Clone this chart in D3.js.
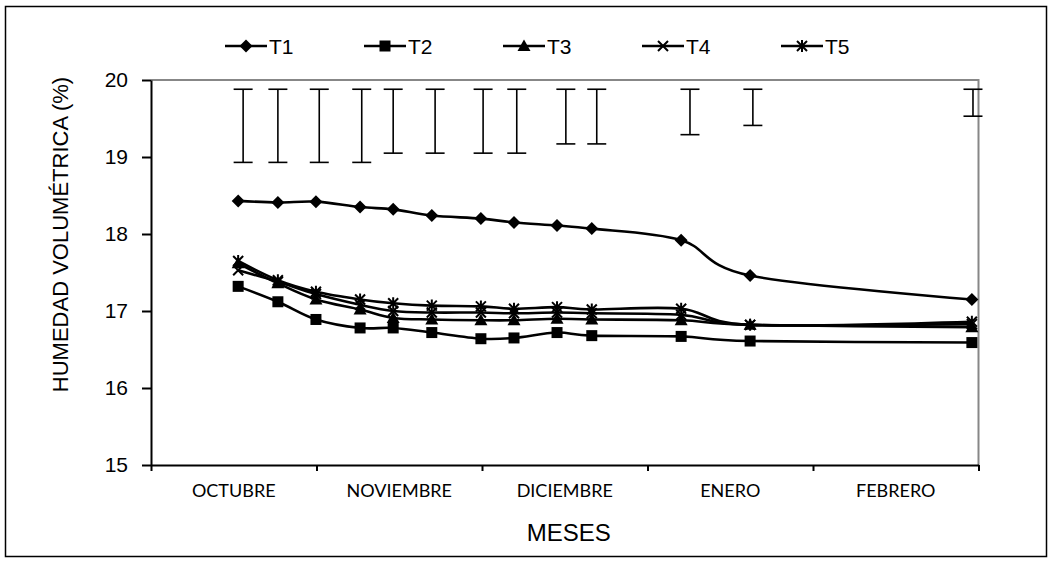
<!DOCTYPE html>
<html lang="es">
<head>
<meta charset="utf-8">
<title>Humedad volumetrica</title>
<script src="https://cdn.jsdelivr.net/npm/d3@7"></script>
<style>
  body { margin: 0; background: #fff; }
</style>
</head>
<body>
<script>

// dias desde el 1 de octubre (el eje usa meses de 30 dias)
var dias = [15.8, 23, 29.9, 37.9, 43.9, 50.9, 59.8, 65.8, 73.6, 79.9, 96.1, 108.6, 148.8];
var meses = ["OCTUBRE", "NOVIEMBRE", "DICIEMBRE", "ENERO", "FEBRERO"];
var yTicks = [15, 16, 17, 18, 19, 20];

var t1 = [18.43, 18.41, 18.42, 18.35, 18.32, 18.24, 18.20, 18.15, 18.11, 18.07, 17.92, 17.46, 17.15];
var t2 = [17.32, 17.12, 16.89, 16.78, 16.78, 16.72, 16.64, 16.65, 16.72, 16.68, 16.67, 16.61, 16.59];
var t3 = [17.62, 17.36, 17.15, 17.02, 16.91, 16.89, 16.88, 16.88, 16.90, 16.89, 16.88, 16.82, 16.79];
var t4 = [17.53, 17.38, 17.22, 17.08, 17.00, 16.98, 16.98, 16.97, 16.98, 16.97, 16.95, 16.82, 16.83];
var t5 = [17.65, 17.40, 17.25, 17.15, 17.10, 17.07, 17.06, 17.03, 17.05, 17.02, 17.03, 16.82, 16.86];

// barras de error (parte superior del grafico)
var diasBarra = [16.7, 23, 30.5, 38.2, 43.9, 51.5, 60.2, 66.3, 75.2, 80.8, 97.7, 109.1, 149];
var barraSup = [19.88, 19.88, 19.88, 19.88, 19.88, 19.88, 19.88, 19.88, 19.88, 19.88, 19.88, 19.88, 19.88];
var barraInf = [18.93, 18.93, 18.93, 18.93, 19.05, 19.05, 19.05, 19.05, 19.17, 19.17, 19.29, 19.41, 19.53];

var series = [
  { nombre: "T1", valores: t1, marca: "rombo" },
  { nombre: "T2", valores: t2, marca: "cuadro" },
  { nombre: "T3", valores: t3, marca: "triangulo" },
  { nombre: "T4", valores: t4, marca: "equis" },
  { nombre: "T5", valores: t5, marca: "asterisco" }
];

var W = 1053, H = 563;
var pLeft = 151, pRight = 978.5, pTop = 80, pBottom = 465;

var svg = d3.select("body").append("svg")
            .attr("width", W)
            .attr("height", H)
            .style("display", "block");

// borde exterior
svg.append("rect")
   .attr("x", 5.5).attr("y", 6.5)
   .attr("width", 1041).attr("height", 550)
   .attr("fill", "none").attr("stroke", "#000").attr("stroke-width", 1.5);

var x = d3.scaleLinear().domain([0, 150]).range([pLeft, pRight]);
var y = d3.scaleLinear().domain([15, 20]).range([pBottom, pTop]);
var xMes = d3.scaleBand().domain(meses).range([pLeft, pRight]);

// marco gris superior y derecho
svg.append("path")
   .attr("d", "M" + pLeft + "," + pTop + "H" + pRight + "V" + pBottom)
   .attr("fill", "none").attr("stroke", "#878787").attr("stroke-width", 2);

// eje y
var ejeY = svg.append("g")
   .attr("transform", "translate(" + pLeft + ",0)")
   .call(d3.axisLeft(y).tickValues(yTicks).tickFormat(d3.format("d"))
           .tickSize(9).tickSizeOuter(0).tickPadding(14));
ejeY.select(".domain").attr("stroke", "#000").attr("stroke-width", 2);
ejeY.selectAll(".tick line").attr("stroke", "#000").attr("stroke-width", 2);
ejeY.selectAll(".tick text")
    .attr("font-family", "'Liberation Sans', Arial, sans-serif")
    .attr("font-size", 21).attr("fill", "#000");

// eje x
var ejeX = svg.append("g")
   .attr("transform", "translate(0," + pBottom + ")")
   .call(d3.axisBottom(x).tickValues([0, 30, 60, 90, 120, 150]).tickSize(6).tickSizeOuter(0).tickFormat(""));
ejeX.select(".domain").attr("stroke", "#000").attr("stroke-width", 2);
ejeX.selectAll(".tick line").attr("stroke", "#000").attr("stroke-width", 2);

svg.selectAll(".mes")
   .data(meses)
   .enter().append("text")
   .attr("class", "mes")
   .attr("x", function(d) { return xMes(d) + xMes.bandwidth() / 2; })
   .attr("y", 497)
   .attr("text-anchor", "middle")
   .attr("font-family", "Lato, 'Open Sans', sans-serif")
   .attr("font-size", 18)
   .text(function(d) { return d; });

svg.append("text")
   .attr("x", (pLeft + pRight) / 2 + 4)
   .attr("y", 541)
   .attr("text-anchor", "middle")
   .attr("font-family", "'Liberation Sans', Arial, sans-serif")
   .attr("font-size", 24)
   .text("MESES");

svg.append("text")
   .attr("transform", "translate(68," + ((pTop + pBottom) / 2 - 38) + ") rotate(-90)")
   .attr("text-anchor", "middle")
   .attr("font-family", "'Liberation Sans', Arial, sans-serif")
   .attr("font-size", 22)
   .text("HUMEDAD VOLUMÉTRICA (%)");

// barras de error
var barras = svg.append("g").attr("stroke", "#000").attr("stroke-width", 1.6);
diasBarra.forEach(function(d, i) {
  var bx = x(d);
  barras.append("line").attr("x1", bx).attr("x2", bx).attr("y1", y(barraSup[i])).attr("y2", y(barraInf[i]));
  barras.append("line").attr("x1", bx - 9.5).attr("x2", bx + 9.5).attr("y1", y(barraSup[i])).attr("y2", y(barraSup[i]));
  barras.append("line").attr("x1", bx - 9.5).attr("x2", bx + 9.5).attr("y1", y(barraInf[i])).attr("y2", y(barraInf[i]));
});

function marcador(g, tipo, cx, cy) {
  var s;
  if (tipo === "rombo") {
    s = 6.5;
    g.append("path").attr("d", "M" + cx + "," + (cy - s) + "L" + (cx + s) + "," + cy + "L" + cx + "," + (cy + s) + "L" + (cx - s) + "," + cy + "Z").attr("fill", "#000");
  } else if (tipo === "cuadro") {
    s = 5.5;
    g.append("rect").attr("x", cx - s).attr("y", cy - s).attr("width", 2 * s).attr("height", 2 * s).attr("fill", "#000");
  } else if (tipo === "triangulo") {
    s = 6.5;
    g.append("path").attr("d", "M" + cx + "," + (cy - s) + "L" + (cx + s) + "," + (cy + 5) + "L" + (cx - s) + "," + (cy + 5) + "Z").attr("fill", "#000");
  } else {
    s = 5;
    var d = "M" + (cx - s) + "," + (cy - s) + "L" + (cx + s) + "," + (cy + s) + "M" + (cx - s) + "," + (cy + s) + "L" + (cx + s) + "," + (cy - s);
    if (tipo === "asterisco") d += "M" + cx + "," + (cy - 6) + "L" + cx + "," + (cy + 6);
    g.append("path").attr("d", d).attr("stroke", "#000").attr("stroke-width", 2).attr("fill", "none");
  }
}

var linea = d3.line()
  .x(function(d, i) { return x(dias[i]); })
  .y(function(d) { return y(d); })
  .curve(d3.curveCardinal.tension(0));

series.forEach(function(s) {
  var g = svg.append("g");
  g.append("path").attr("d", linea(s.valores))
   .attr("fill", "none").attr("stroke", "#000").attr("stroke-width", 2.6);
  s.valores.forEach(function(v, i) { marcador(g, s.marca, x(dias[i]), y(v)); });
});

// leyenda
var ley = svg.append("g");
series.forEach(function(s, i) {
  var lx = 225 + i * 139, ly = 46;
  ley.append("line").attr("x1", lx).attr("x2", lx + 42).attr("y1", ly).attr("y2", ly)
     .attr("stroke", "#000").attr("stroke-width", 2.6);
  marcador(ley, s.marca, lx + 21, ly);
  ley.append("text").attr("x", lx + 44).attr("y", ly + 7.5)
     .attr("font-family", "'Liberation Sans', Arial, sans-serif")
     .attr("font-size", 21)
     .text(s.nombre);
});

</script>
</body>
</html>
